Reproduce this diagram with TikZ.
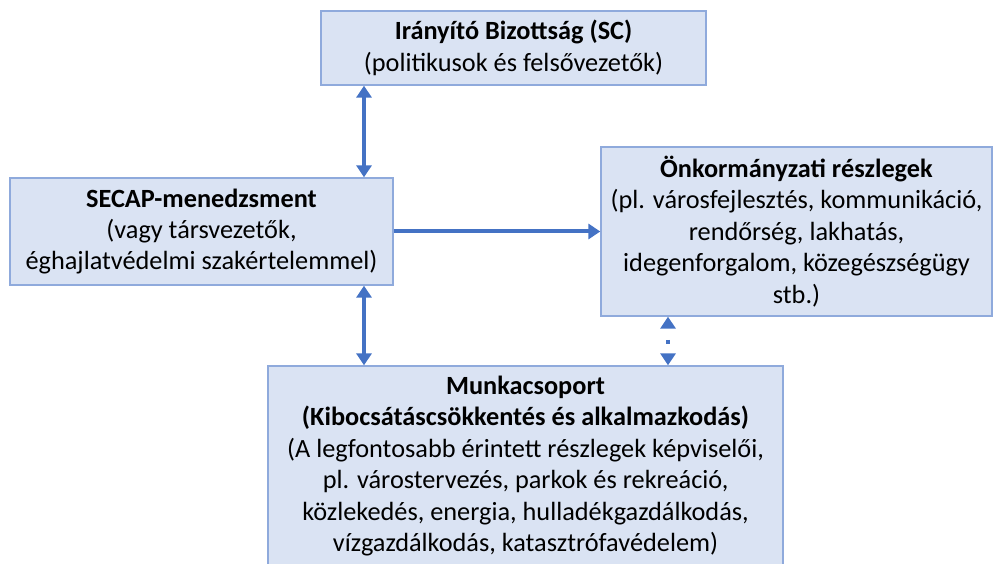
\documentclass[tikz,border=0pt]{standalone}
\usepackage{fontspec}
\setmainfont{Carlito}
\usetikzlibrary{arrows.meta}
\definecolor{boxfill}{HTML}{DAE3F3}
\definecolor{boxline}{HTML}{8FAADC}
\definecolor{arrowc}{HTML}{4472C4}
\begin{document}
\begin{tikzpicture}[x=1pt,y=1pt,
  box/.style={draw=boxline,fill=boxfill,line width=1.3pt,align=center,inner sep=0pt,
    font=\fontsize{26.3}{31.4}\selectfont},
  conn/.style={draw=arrowc,line width=4pt,arrows={Triangle[length=12pt,width=15pt]-Triangle[length=12pt,width=15pt]}}]
\useasboundingbox (0,0) rectangle (993,563);
\node[box,minimum width=385pt,minimum height=74pt] (sc) at (513.5,515)
  {\textbf{Irányító Bizottság (SC)}\\(politikusok és felsővezetők)};
\node[box,minimum width=383pt,minimum height=107pt] (secap) at (201.5,331.5)
  {\textbf{SECAP-menedzsment}\\(vagy társvezetők,\\éghajlatvédelmi szakértelemmel)};
\node[box,minimum width=391pt,minimum height=169pt] (onk) at (796.5,331.5)
  {\textbf{Önkormányzati részlegek}\\(pl. városfejlesztés, kommunikáció,\\rendőrség, lakhatás,\\idegenforgalom, közegészségügy\\stb.)};
\node[box,minimum width=515pt,minimum height=200pt] (munka) at (525.5,97)
  {\textbf{Munkacsoport}\\\textbf{(Kibocsátáscsökkentés és alkalmazkodás)}\\(A legfontosabb érintett részlegek képviselői,\\pl. várostervezés, parkok és rekreáció,\\közlekedés, energia, hulladékgazdálkodás,\\vízgazdálkodás, katasztrófavédelem)};
\coordinate (xa) at (364,0);
\coordinate (xb) at (668,0);
\draw[conn] (sc.south -| xa) -- (secap.north -| xa);
\draw[conn] (secap.south -| xa) -- (munka.north -| xa);
\draw[conn,arrows={-Triangle[length=12pt,width=15pt]}] (secap.east) -- (onk.west);
\draw[conn,dash pattern=on 4pt off 40pt,dash phase=32pt] (onk.south -| xb) -- (munka.north -| xb);
\end{tikzpicture}
\end{document}
